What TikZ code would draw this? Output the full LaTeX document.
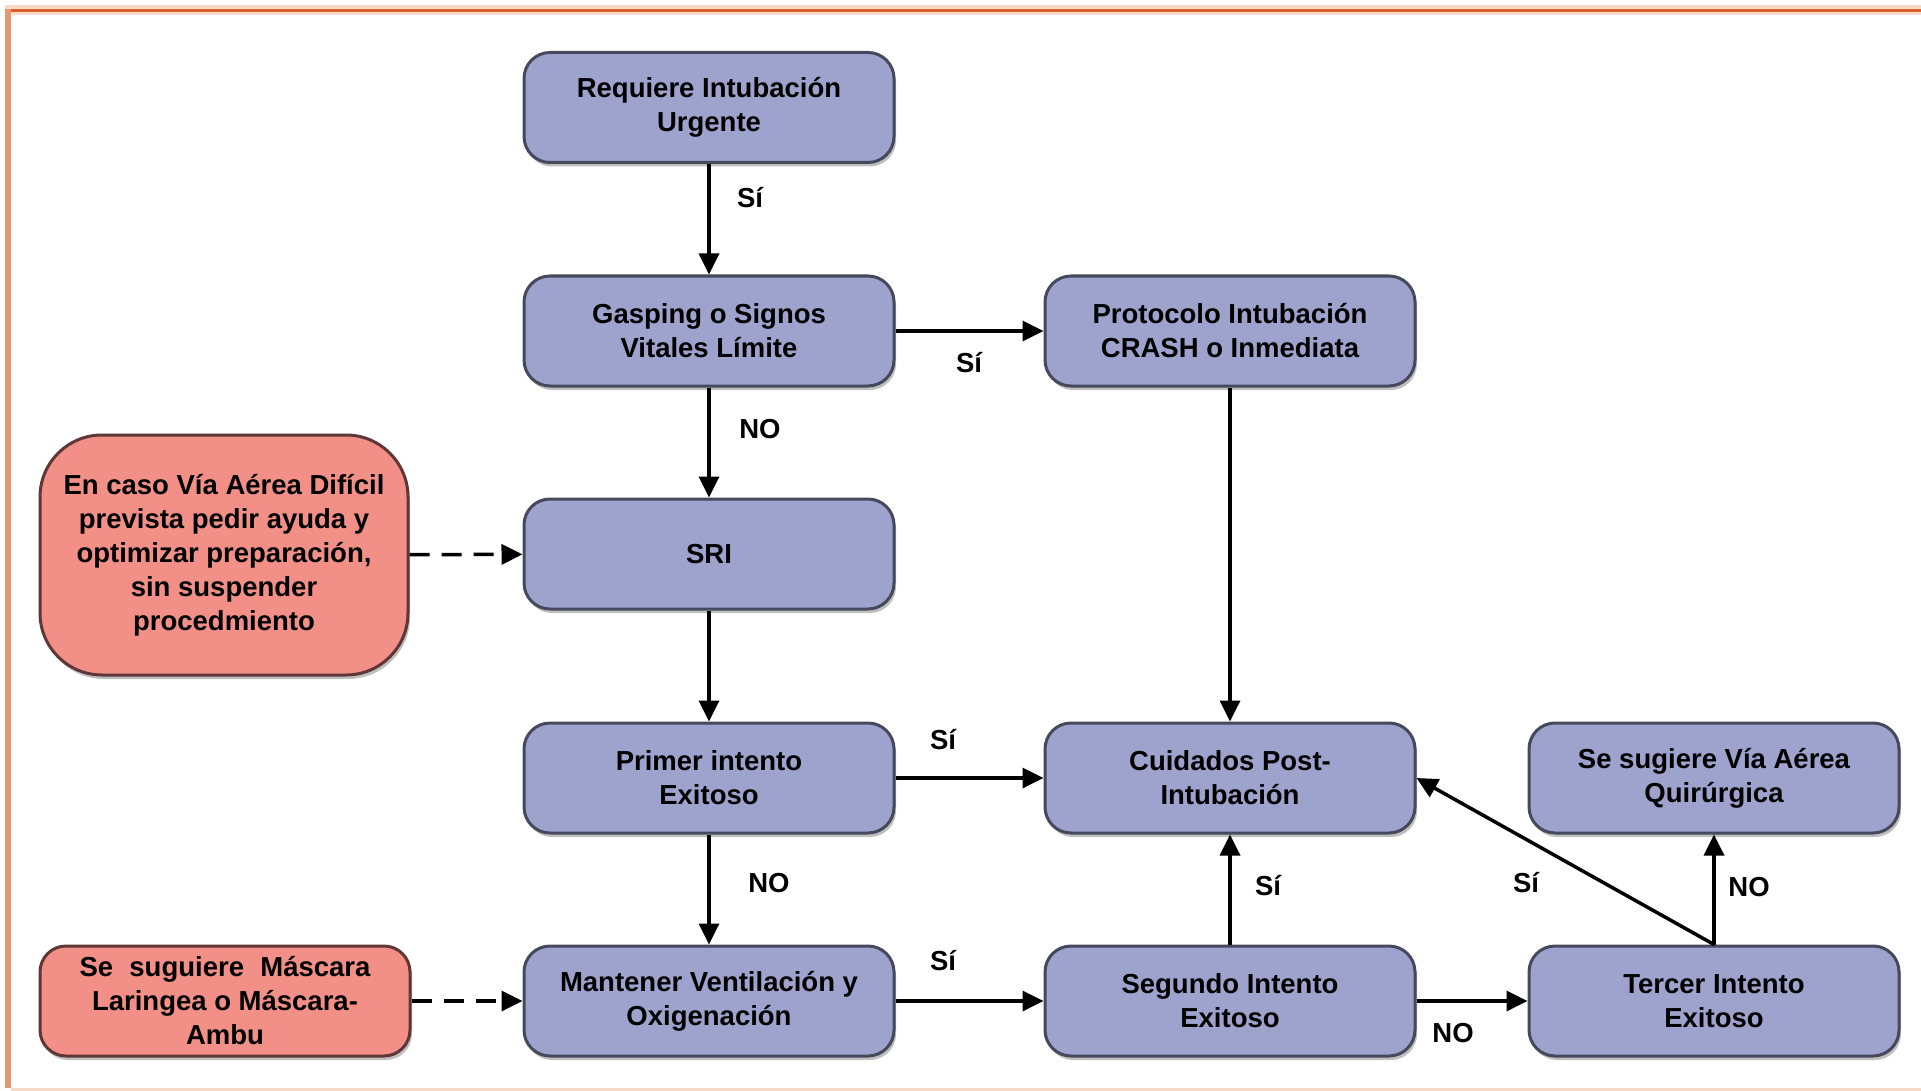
\documentclass[tikz,border=0pt]{standalone}
\usepackage{fontspec}
\setmainfont{Liberation Sans}
\usetikzlibrary{arrows.meta,shadows}
\definecolor{boxblue}{RGB}{158,163,206}
\definecolor{boxedge}{RGB}{70,72,92}
\definecolor{boxred}{RGB}{242,143,135}
\definecolor{rededge}{RGB}{95,55,55}
\definecolor{orangeline}{RGB}{217,96,42}
\definecolor{orangeleft}{RGB}{227,152,110}
\definecolor{peach}{RGB}{246,218,200}
\begin{document}
\begin{tikzpicture}[x=1pt,y=-1pt,
  every node/.style={font=\fontsize{27.5}{34}\selectfont\bfseries},
  basebox/.style={line width=3pt, minimum width=370pt, minimum height=110pt,
    inner sep=0pt, align=center,
    drop shadow={shadow xshift=2pt, shadow yshift=-4pt, opacity=0.25, fill=black}},
  bluebox/.style={basebox, draw=boxedge, fill=boxblue, rounded corners=26pt},
  redbox/.style={basebox, draw=rededge, fill=boxred, rounded corners=26pt},
  arr/.style={line width=3.5pt, draw=black, -{Triangle[length=21pt,width=20pt]}},
  dasharr/.style={arr, dash pattern=on 20pt off 12pt},
  lbl/.style={inner sep=0pt}
]
\useasboundingbox (0,0) rectangle (1921,1091);
% frame
\fill[peach] (5,5) rectangle (1921,15);
\fill[orangeline] (5,9) rectangle (1921,12);
\fill[orangeleft] (5,9) rectangle (11,1088);
\fill[peach] (11,1088) rectangle (1921,1091);

% nodes
\node[bluebox] (req) at (709,107.5) {Requiere Intubación\\Urgente};
\node[bluebox] (gas) at (709,331) {Gasping o Signos\\Vitales Límite};
\node[bluebox] (pro) at (1230,331) {Protocolo Intubación\\CRASH o Inmediata};
\node[bluebox] (sri) at (709,554) {SRI};
\node[bluebox] (pri) at (709,778) {Primer intento\\Exitoso};
\node[bluebox] (cui) at (1230,778) {Cuidados Post-\\Intubación};
\node[bluebox] (qui) at (1714,778) {Se sugiere Vía Aérea\\Quirúrgica};
\node[bluebox] (man) at (709,1001) {Mantener Ventilación y\\Oxigenación};
\node[bluebox] (seg) at (1230,1001) {Segundo Intento\\Exitoso};
\node[bluebox] (ter) at (1714,1001) {Tercer Intento\\Exitoso};
\node[redbox, minimum width=368pt, minimum height=240pt, rounded corners=62pt] (dif) at (224,555)
  {En caso Vía Aérea Difícil\\prevista pedir ayuda y\\optimizar preparación,\\sin suspender\\procedmiento};
\node[redbox] (mas) at (225,1001)
  {\makebox[291pt][s]{Se suguiere Máscara}\\Laringea o Máscara-\\Ambu};

% connectors
\draw[arr] (req) -- (gas);
\draw[arr] (gas) -- (pro);
\draw[arr] (gas) -- (sri);
\draw[dasharr] (dif) -- (sri);
\draw[arr] (sri) -- (pri);
\draw[arr] (pro) -- (cui);
\draw[arr] (pri) -- (cui);
\draw[arr] (pri) -- (man);
\draw[dasharr] (mas) -- (man);
\draw[arr] (man) -- (seg);
\draw[arr] (seg) -- (cui);
\draw[arr] (seg) -- (ter);
\draw[arr] (ter.north) -- (cui.east);
\draw[arr] (ter) -- (qui);

% labels
\node[lbl] (l1) at (750,198) {Sí};
\node[lbl] (l2) at (969,363) {Sí};
\node[lbl] (l3) at (760,429) {NO};
\node[lbl] (l4) at (943,740) {Sí};
\node[lbl] (l5) at (769,883) {NO};
\node[lbl] (l6) at (943,961) {Sí};
\node[lbl] (l7) at (1268,886) {Sí};
\node[lbl] (l8) at (1453,1033) {NO};
\node[lbl] (l9) at (1526,883) {Sí};
\node[lbl] (l10) at (1749,887) {NO};
\end{tikzpicture}
\end{document}
